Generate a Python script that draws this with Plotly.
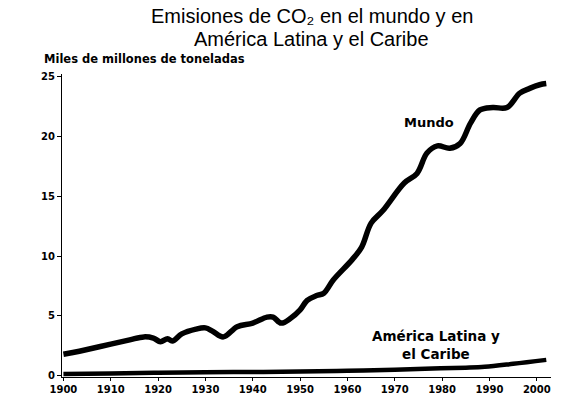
import plotly.graph_objects as go

years_world = [1900, 1902, 1905, 1910, 1914, 1917, 1919, 1920.5, 1922, 1923, 1925, 1928, 1930,
               1931.6, 1933.8, 1936.7, 1940, 1943, 1944.3, 1946, 1948, 1950, 1951.5, 1953.5,
               1955, 1957, 1961, 1963, 1965, 1967.5, 1972, 1974.7, 1976.8, 1979, 1981.6,
               1983.8, 1986, 1988, 1990.7, 1993.7, 1996.4, 1998.5, 2000.6, 2002]
world = [1.8, 1.95, 2.2, 2.65, 3.0, 3.25, 3.15, 2.85, 3.1, 2.9, 3.5, 3.9, 4.0,
         3.7, 3.25, 4.1, 4.4, 4.9, 4.9, 4.4, 4.8, 5.5, 6.3, 6.7,
         6.9, 8.0, 9.7, 10.75, 12.75, 13.8, 16.1, 16.9, 18.6, 19.2, 19.0,
         19.4, 21.1, 22.2, 22.4, 22.4, 23.6, 24.0, 24.3, 24.4]

years_la = [1900, 1910, 1920, 1930, 1940, 1950, 1960, 1970, 1978, 1985, 1989, 1995, 2002]
latam = [0.15, 0.2, 0.25, 0.3, 0.32, 0.35, 0.42, 0.5, 0.62, 0.68, 0.75, 1.0, 1.33]

x_ticks = list(range(1900, 2001, 10))
y_ticks = [0, 5, 10, 15, 20, 25]

title_lines = ["Emisiones de CO₂ en el mundo y en", "América Latina y el Caribe"]
y_title = "Miles de millones de toneladas"
label_world = "Mundo"
label_la = "América Latina y<br>el Caribe"

SANS = "Liberation Sans, Arial, sans-serif"
BOLD = "DejaVu Sans, Verdana, sans-serif"

W, H = 566, 401
L, R, T, B = 62, 15, 74, 24
PW, PH = W - L - R, H - T - B


def px(x):
    return (x - L) / PW


def py(y):
    return (H - B - y) / PH


fig = go.Figure()
fig.add_trace(go.Scatter(x=years_la, y=latam, mode="lines",
                         line=dict(color="black", width=4.5, shape="spline"),
                         showlegend=False, hoverinfo="skip"))
fig.add_trace(go.Scatter(x=years_world, y=world, mode="lines",
                         line=dict(color="black", width=5.5, shape="spline"),
                         showlegend=False, hoverinfo="skip"))

ann = [
    dict(text=title_lines[0], x=px(312), y=py(16), font=dict(size=20, family=SANS)),
    dict(text=title_lines[1], x=px(311), y=py(39.5), font=dict(size=20, family=SANS)),
    dict(text=y_title, x=px(42), y=py(59), xanchor="left",
         font=dict(size=11.5, family=BOLD, weight="bold")),
    dict(text=label_world, x=px(429), y=py(122), font=dict(size=13, family=BOLD, weight="bold")),
    dict(text=label_la, x=px(436), y=py(345), font=dict(size=13.5, family=BOLD, weight="bold")),
]
for a in ann:
    a.setdefault("xanchor", "center")
    a.update(xref="paper", yref="paper", yanchor="middle", showarrow=False)
    a["font"]["color"] = "black"

fig.update_layout(
    width=W, height=H,
    margin=dict(l=L, r=R, t=T, b=B, autoexpand=False),
    paper_bgcolor="white", plot_bgcolor="white",
    font=dict(family=SANS, color="black"),
    xaxis=dict(range=[1899.7, 2003], tickvals=x_ticks, ticktext=[str(v) for v in x_ticks],
               showgrid=False, zeroline=False, showline=True, linecolor="black", linewidth=1,
               ticks="outside", ticklen=3, tickcolor="black", automargin=False,
               tickfont=dict(size=10, family=BOLD, weight="bold")),
    yaxis=dict(range=[-0.1, 25.2], tickvals=y_ticks,
               showgrid=False, zeroline=False, showline=True, linecolor="black", linewidth=1,
               ticks="outside", ticklen=4, tickcolor="black", automargin=False,
               tickfont=dict(size=10, family=BOLD, weight="bold")),
    annotations=ann,
)

fig.write_html("out.html", config={"displayModeBar": False},
               post_script="document.body.style.margin='0';")
